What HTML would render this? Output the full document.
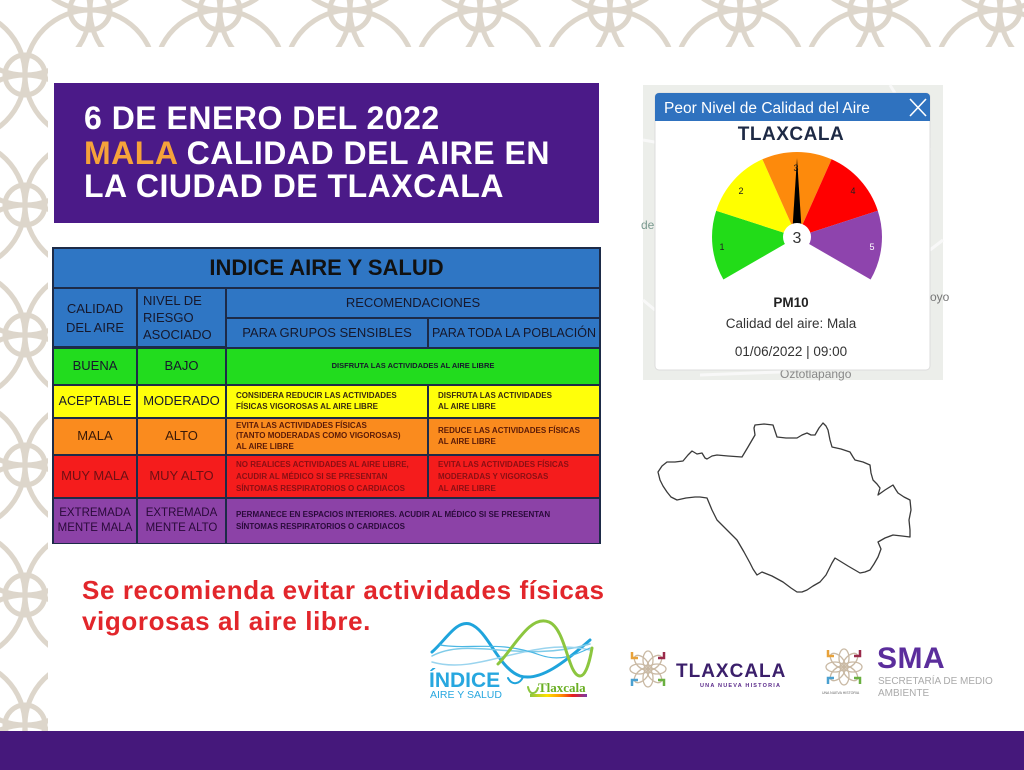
<!DOCTYPE html>
<html><head><meta charset="utf-8">
<style>
*{margin:0;padding:0;box-sizing:border-box}
html,body{width:1024px;height:770px;overflow:hidden;background:#fff}
body{position:relative;font-family:"Liberation Sans",Arial,sans-serif}
.abs{position:absolute}
#title{left:54px;top:83px;width:545px;height:140px;background:#4b1a88;}
#title div{position:absolute;left:30px;color:#fff;font-weight:bold;font-size:32px;letter-spacing:0.5px;line-height:34px;white-space:nowrap}
#tbl{left:52px;top:247px;width:549px;height:297px;background:#1d2b48}
.c{position:absolute;display:flex;align-items:center;justify-content:center;text-align:center;color:#16182c;font-size:13px;line-height:1.15;white-space:nowrap}
.s{font-size:8px;font-weight:bold;line-height:10.5px;justify-content:flex-start;text-align:left;padding-left:9px}
.red{position:absolute;left:82px;color:#e2262b;font-weight:bold;font-size:26px;letter-spacing:0.6px;white-space:nowrap}
</style></head><body>

<svg class="abs" style="left:0;top:0" width="1024" height="770" viewBox="0 0 1024 770" xmlns="http://www.w3.org/2000/svg">
<defs>
<pattern id="orn" width="130" height="130" patternUnits="userSpaceOnUse" x="-40" y="-55">
<g fill="none" stroke="#ddd6cb" stroke-width="5">
<circle cx="0" cy="0" r="65"/><circle cx="130" cy="0" r="65"/><circle cx="0" cy="130" r="65"/><circle cx="130" cy="130" r="65"/><circle cx="65" cy="65" r="65"/>
<circle cx="65" cy="0" r="20"/><circle cx="0" cy="65" r="20"/><circle cx="130" cy="65" r="20"/><circle cx="65" cy="130" r="20"/>
</g>
</pattern>
</defs>
<rect x="0" y="0" width="1024" height="770" fill="#fff"/>
<rect x="0" y="0" width="1024" height="731" fill="url(#orn)"/>
<rect x="48" y="47" width="976" height="684" fill="#fff"/>
<rect x="0" y="731" width="1024" height="39" fill="#45187b"/>

<!-- map background -->
<rect x="643" y="85" width="300" height="295" fill="#eceeea"/>
<path d="M643,140 L700,150 M890,85 L930,150 M930,250 L943,240 M700,375 L780,372 M643,300 L655,310" stroke="#f8f8f8" stroke-width="3" fill="none"/>
<text x="641" y="229" font-family="Liberation Sans, sans-serif" font-size="12" fill="#7a9a90">de</text>
<text x="930" y="301" font-family="Liberation Sans, sans-serif" font-size="12" fill="#777">oyo</text>
<text x="780" y="378" font-family="Liberation Sans, sans-serif" font-size="12" fill="#888">Oztotlapango</text>
<!-- popup -->
<rect x="655" y="93" width="275" height="277" rx="4" fill="#fff" stroke="#dcdcdc" stroke-width="1"/>
<path d="M659,93 H926 a4,4 0 0 1 4,4 V121 H655 V97 a4,4 0 0 1 4,-4 Z" fill="#2f72bf"/>
<text x="664" y="113" font-family="Liberation Sans, sans-serif" font-size="15.5" fill="#fff">Peor Nivel de Calidad del Aire</text>
<path d="M910,99 L926,116 M926,99 L910,116" stroke="#fff" stroke-width="1.6"/>
<text x="791" y="140" text-anchor="middle" font-family="Liberation Sans, sans-serif" font-size="19" font-weight="bold" fill="#1e2a45" letter-spacing="0.5">TLAXCALA</text>
<!-- gauge -->
<path d="M797,237 L723.4,279.5 A85,85 0 0 1 716.2,210.7 Z" fill="#22dc18"/>
<path d="M797,237 L716.2,210.7 A85,85 0 0 1 762.4,159.3 Z" fill="#ffff00"/>
<path d="M797,237 L762.4,159.3 A85,85 0 0 1 831.6,159.3 Z" fill="#fd8a0c"/>
<path d="M797,237 L831.6,159.3 A85,85 0 0 1 877.8,210.7 Z" fill="#ff0000"/>
<path d="M797,237 L877.8,210.7 A85,85 0 0 1 870.6,279.5 Z" fill="#8e44ad"/>
<g font-family="Liberation Sans, sans-serif" font-size="9" text-anchor="middle">
<text x="722" y="250" fill="#222">1</text>
<text x="741" y="194" fill="#222">2</text>
<text x="796" y="171" fill="#222">3</text>
<text x="853" y="194" fill="#222">4</text>
<text x="872" y="250" fill="#fff">5</text>
</g>
<polygon points="792,236 802,236 797,158" fill="#000"/>
<circle cx="797" cy="237" r="14" fill="#fff"/>
<text x="797" y="243" text-anchor="middle" font-family="Liberation Sans, sans-serif" font-size="16" fill="#333">3</text>
<text x="791" y="307" text-anchor="middle" font-family="Liberation Sans, sans-serif" font-size="13.5" font-weight="bold" fill="#222">PM10</text>
<text x="791" y="328" text-anchor="middle" font-family="Liberation Sans, sans-serif" font-size="13.5" fill="#333">Calidad del aire: Mala</text>
<text x="791" y="356" text-anchor="middle" font-family="Liberation Sans, sans-serif" font-size="13.5" fill="#333">01/06/2022 | 09:00</text>

<!-- state outline -->
<path d="M658,472 L662,466 L667,462 L675,462 L683,461 L688,455 L692,451 L697,454 L702,453 L705,458 L707,459 L712,456 L717,455 L728,456 L742,457 L748,447 L755,435 L754,428 L755,425 L764,424 L773,425 L775,431 L777,437 L786,438 L797,438 L802,435 L807,433 L811,435 L815,435 L819,428 L823,423 L826,426 L828,430 L830,440 L832,447 L841,449 L850,452 L853,457 L855,460 L863,462 L870,465 L871,473 L873,480 L877,484 L880,488 L878,495 L885,490 L893,485 L896,490 L898,493 L904,497 L910,500 L911,510 L909,520 L910,530 L910,537 L902,536 L893,535 L885,538 L878,542 L881,549 L878,557 L874,564 L870,570 L865,572 L860,573 L848,566 L835,558 L832,563 L830,567 L826,575 L820,582 L813,586 L807,590 L802,592 L797,592 L791,588 L783,582 L772,576 L762,572 L757,575 L753,569 L750,563 L744,552 L737,540 L730,533 L724,527 L717,520 L712,510 L707,498 L700,497 L695,497 L686,498 L677,500 L671,497 L667,492 L663,486 L660,480 Z" fill="none" stroke="#3a3a3a" stroke-width="1.3" stroke-linejoin="round"/>

<!-- indice logo -->
<g fill="none" stroke-linecap="round">
<path d="M432,652 C446,640 456,620 470,624 C488,630 498,668 520,676 C540,682 565,662 590,640" stroke="#1fa4dc" stroke-width="3"/>
<path d="M432,656 C470,636 520,664 590,644" stroke="#7fcbe8" stroke-width="1.5"/>
<path d="M432,662 C480,676 530,636 590,650" stroke="#9ad4ee" stroke-width="1.5"/>
<path d="M440,645 C470,650 500,640 540,655 C560,662 575,655 590,648" stroke="#4ab7e4" stroke-width="1.2"/>
<path d="M498,664 C514,648 530,614 549,622 C566,629 568,676 580,676 C586,676 590,660 592,648" stroke="#8cc63f" stroke-width="3"/>
<path d="M508,678 C512,686 520,684 523,677" stroke="#1fa4dc" stroke-width="2"/>
<path d="M528,687 C530,696 536,694 538,688" stroke="#8cc63f" stroke-width="2"/>
</g>
<defs><linearGradient id="rb" x1="0" x2="1"><stop offset="0" stop-color="#8cc63f"/><stop offset="0.3" stop-color="#ffe000"/><stop offset="0.55" stop-color="#ff8c00"/><stop offset="0.75" stop-color="#e81c1c"/><stop offset="1" stop-color="#7a3aa8"/></linearGradient></defs>
<rect x="530" y="694" width="57" height="3" fill="url(#rb)"/>
<text x="429" y="687" font-family="Liberation Sans, sans-serif" font-size="21" font-weight="bold" fill="#27a7df">ÍNDICE</text>
<text x="430" y="698" font-family="Liberation Sans, sans-serif" font-size="10.5" fill="#27a7df">AIRE Y SALUD</text>
<text x="538" y="692" font-family="Liberation Serif, serif" font-size="13" font-weight="bold" fill="#6aaf23">Tlaxcala</text>

<!-- flower icons -->
<g id="fl" fill="none" stroke="#c9b9a4" stroke-width="1.3">
<ellipse cx="648" cy="660" rx="5" ry="9"/><ellipse cx="648" cy="678" rx="5" ry="9"/>
<ellipse cx="639" cy="669" rx="9" ry="5"/><ellipse cx="657" cy="669" rx="9" ry="5"/>
<ellipse cx="641.6" cy="662.6" rx="5" ry="9" transform="rotate(-45 641.6 662.6)"/>
<ellipse cx="654.4" cy="662.6" rx="5" ry="9" transform="rotate(45 654.4 662.6)"/>
<ellipse cx="641.6" cy="675.4" rx="5" ry="9" transform="rotate(45 641.6 675.4)"/>
<ellipse cx="654.4" cy="675.4" rx="5" ry="9" transform="rotate(-45 654.4 675.4)"/>
<circle cx="648" cy="669" r="4"/>
</g>
<path d="M632,652 L632,658 L638,658" stroke="#e8a23a" stroke-width="2.5" fill="none"/>
<path d="M664,652 L664,658 L658,658" stroke="#9a2a4a" stroke-width="2.5" fill="none"/>
<path d="M632,686 L632,680 L638,680" stroke="#4aa0d0" stroke-width="2.5" fill="none"/>
<path d="M664,686 L664,680 L658,680" stroke="#6ab040" stroke-width="2.5" fill="none"/>
<g transform="translate(196,-2)">
<use href="#fl"/>
<path d="M632,652 L632,658 L638,658" stroke="#e8a23a" stroke-width="2.5" fill="none"/>
<path d="M664,652 L664,658 L658,658" stroke="#9a2a4a" stroke-width="2.5" fill="none"/>
<path d="M632,686 L632,680 L638,680" stroke="#4aa0d0" stroke-width="2.5" fill="none"/>
<path d="M664,686 L664,680 L658,680" stroke="#6ab040" stroke-width="2.5" fill="none"/>
</g>
<text x="676" y="677" font-family="Liberation Sans, sans-serif" font-size="19" font-weight="bold" fill="#3b1f6b" letter-spacing="1">TLAXCALA</text>
<text x="700" y="687" font-family="Liberation Sans, sans-serif" font-size="5.5" font-weight="bold" fill="#5a2a8a" letter-spacing="1.2">UNA NUEVA HISTORIA</text>
<text x="877" y="668" font-family="Liberation Sans, sans-serif" font-size="30" font-weight="bold" fill="#5b2d9c" letter-spacing="0.5">SMA</text>
<text x="878" y="684" font-family="Liberation Sans, sans-serif" font-size="10" fill="#aaa">SECRETARÍA DE MEDIO</text>
<text x="878" y="696" font-family="Liberation Sans, sans-serif" font-size="10" fill="#aaa">AMBIENTE</text>
<text x="822" y="694" font-family="Liberation Sans, sans-serif" font-size="3.5" fill="#666">UNA NUEVA HISTORIA</text>
</svg>

<div id="title" class="abs">
<div style="top:18px">6 DE ENERO DEL 2022</div>
<div style="top:53px"><span style="color:#f6a23a">MALA</span> CALIDAD DEL AIRE EN</div>
<div style="top:86px">LA CIUDAD DE TLAXCALA</div>
</div>

<div id="tbl" class="abs">
<div class="c" style="left:2px;top:2px;width:545px;height:38px;background:#2f76c4;font-size:22px;font-weight:bold;color:#111">INDICE AIRE Y SALUD</div>
<div class="c" style="left:2px;top:42px;width:82px;height:57px;background:#2f76c4;line-height:19px">CALIDAD<br>DEL AIRE</div>
<div class="c" style="left:86px;top:42px;width:87px;height:57px;background:#2f76c4;line-height:17px;justify-content:flex-start;text-align:left;padding-left:5px">NIVEL DE<br>RIESGO<br>ASOCIADO</div>
<div class="c" style="left:175px;top:42px;width:372px;height:28px;background:#2f76c4">RECOMENDACIONES</div>
<div class="c" style="left:175px;top:72px;width:200px;height:28px;background:#2f76c4">PARA GRUPOS SENSIBLES</div>
<div class="c" style="left:377px;top:72px;width:170px;height:28px;background:#2f76c4;font-size:12.5px">PARA TODA LA POBLACIÓN</div>

<div class="c" style="left:2px;top:102px;width:82px;height:35px;background:#22dc1e">BUENA</div>
<div class="c" style="left:86px;top:102px;width:87px;height:35px;background:#22dc1e">BAJO</div>
<div class="c" style="left:175px;top:102px;width:372px;height:35px;background:#22dc1e;font-size:7.5px;font-weight:bold">DISFRUTA LAS ACTIVIDADES AL AIRE LIBRE</div>

<div class="c" style="left:2px;top:139px;width:82px;height:31px;background:#ffff0a;font-size:12.5px">ACEPTABLE</div>
<div class="c" style="left:86px;top:139px;width:87px;height:31px;background:#ffff0a">MODERADO</div>
<div class="c s" style="left:175px;top:139px;width:200px;height:31px;background:#ffff0a;color:#3a2a10">CONSIDERA REDUCIR LAS ACTIVIDADES<br>FÍSICAS VIGOROSAS AL AIRE LIBRE</div>
<div class="c s" style="left:377px;top:139px;width:170px;height:31px;background:#ffff0a;color:#3a2a10">DISFRUTA LAS ACTIVIDADES<br>AL AIRE LIBRE</div>

<div class="c" style="left:2px;top:172px;width:82px;height:35px;background:#fa8b1e;color:#3a1a08">MALA</div>
<div class="c" style="left:86px;top:172px;width:87px;height:35px;background:#fa8b1e;color:#3a1a08">ALTO</div>
<div class="c s" style="left:175px;top:172px;width:200px;height:35px;background:#fa8b1e;color:#5a1a08">EVITA LAS ACTIVIDADES FÍSICAS<br>(TANTO MODERADAS COMO VIGOROSAS)<br>AL AIRE LIBRE</div>
<div class="c s" style="left:377px;top:172px;width:170px;height:35px;background:#fa8b1e;color:#5a1a08">REDUCE LAS ACTIVIDADES FÍSICAS<br>AL AIRE LIBRE</div>

<div class="c" style="left:2px;top:209px;width:82px;height:41px;background:#f51c1c;color:#6e0f14">MUY MALA</div>
<div class="c" style="left:86px;top:209px;width:87px;height:41px;background:#f51c1c;color:#6e0f14">MUY ALTO</div>
<div class="c s" style="left:175px;top:209px;width:200px;height:41px;background:#f51c1c;color:#8a0f14;line-height:12px">NO REALICES ACTIVIDADES AL AIRE LIBRE,<br>ACUDIR AL MÉDICO SI SE PRESENTAN<br>SÍNTOMAS RESPIRATORIOS O CARDIACOS</div>
<div class="c s" style="left:377px;top:209px;width:170px;height:41px;background:#f51c1c;color:#8a0f14;line-height:12px">EVITA LAS ACTIVIDADES FÍSICAS<br>MODERADAS Y VIGOROSAS<br>AL AIRE LIBRE</div>

<div class="c" style="left:2px;top:252px;width:82px;height:44px;background:#8c42a7;color:#2a0a3a;font-size:11.5px;line-height:15px">EXTREMADA<br>MENTE MALA</div>
<div class="c" style="left:86px;top:252px;width:87px;height:44px;background:#8c42a7;color:#2a0a3a;font-size:11.5px;line-height:15px">EXTREMADA<br>MENTE ALTO</div>
<div class="c s" style="left:175px;top:252px;width:372px;height:44px;background:#8c42a7;color:#2a0a3a;line-height:12px">PERMANECE EN ESPACIOS INTERIORES. ACUDIR AL MÉDICO SI SE PRESENTAN<br>SÍNTOMAS RESPIRATORIOS O CARDIACOS</div>
</div>

<div class="red" style="top:575px">Se recomienda evitar actividades físicas</div>
<div class="red" style="top:606px">vigorosas al aire libre.</div>

</body></html>
